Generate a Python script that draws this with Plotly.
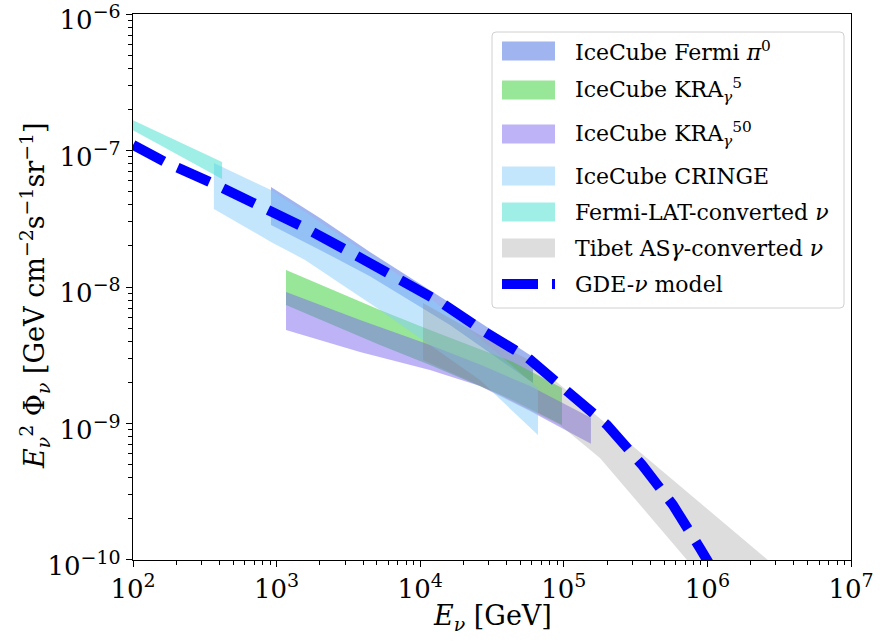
import plotly.graph_objects as go

# ---------------- data ----------------
# IceCube Fermi pi0
fermi_pi0_E = [914, 2004, 4467, 16130, 61030]
fermi_pi0_up = [5.40e-8, 3.20e-8, 1.805e-8, 7.63e-9, 3.07e-9]
fermi_pi0_lo = [2.85e-8, 1.87e-8, 1.20e-8, 5.27e-9, 1.98e-9]

# IceCube KRA_gamma^5
kra5_E = [1163, 5248, 11700, 44260, 97170]
kra5_up = [1.332e-8, 6.78e-9, 4.84e-9, 2.82e-9, 1.82e-9]
kra5_lo = [7.38e-9, 3.76e-9, 2.68e-9, 1.487e-9, 9.75e-10]

# IceCube KRA_gamma^50
kra50_E = [1163, 3811, 11700, 26060, 58160, 154500]
kra50_up = [9.19e-9, 5.73e-9, 3.76e-9, 2.70e-9, 1.88e-9, 1.10e-9]
kra50_lo = [4.84e-9, 3.34e-9, 2.47e-9, 1.88e-9, 1.235e-9, 7.1e-10]

# IceCube CRINGE
cringe_E = [366, 914, 1578, 3243, 5248, 9970, 26060, 66070]
cringe_up = [8.10e-8, 5.13e-8, 3.54e-8, 2.14e-8, 1.525e-8, 9.51e-9, 4.23e-9, 1.82e-9]
cringe_lo = [3.73e-8, 2.14e-8, 1.58e-8, 9.51e-9, 6.78e-9, 4.23e-9, 2.08e-9, 8.23e-10]

# Fermi-LAT-converted nu
fermilat_E = [100, 417]
fermilat_up = [1.67e-7, 8.24e-8]
fermilat_lo = [1.41e-7, 6.18e-8]

# Tibet ASgamma-converted nu
tibet_E_up = [10460, 26060, 61030, 110400, 210000, 2.64e6, 6.08e6]
tibet_up = [7.63e-9, 4.45e-9, 2.82e-9, 1.67e-9, 9.43e-10, 1.0e-10, 4.76e-11]
tibet_E_lo = [10460, 35950, 94080, 178600, 721000, 1.225e6]
tibet_lo = [2.92e-9, 1.62e-9, 9.75e-10, 5.59e-10, 1.0e-10, 5.27e-11]

# GDE-nu model
gde_E = [100, 167, 355, 741, 1578, 3243, 6887, 14190, 28250, 56360,
         107000, 200000, 351000, 575000, 887000, 1330000]
gde_F = [1.10e-7, 8.24e-8, 5.78e-8, 3.99e-8, 2.71e-8, 1.80e-8, 1.18e-8,
         7.63e-9, 4.68e-9, 3.02e-9, 1.70e-9, 9.75e-10, 4.96e-10, 2.53e-10,
         1.22e-10, 6.0e-11]

x_tickvals = [1e2, 1e3, 1e4, 1e5, 1e6, 1e7]
x_exponents = ["2", "3", "4", "5", "6", "7"]
y_tickvals = [1e-10, 1e-9, 1e-8, 1e-7, 1e-6]
y_exponents = ["−10", "−9", "−8", "−7", "−6"]

FONT = "DejaVu Serif"
SUP = '10<sup><span style="font-size:19px">{}</span></sup>'

bands = [
    ("IceCube Fermi <i>π</i><sup>0</sup>", fermi_pi0_E, fermi_pi0_up, fermi_pi0_E, fermi_pi0_lo, "rgba(65,105,225,0.5)"),
    ("IceCube KRA<sub><i>γ</i></sub><sup>5</sup>", kra5_E, kra5_up, kra5_E, kra5_lo, "rgba(50,205,50,0.5)"),
    ("IceCube KRA<sub><i>γ</i></sub><sup>50</sup>", kra50_E, kra50_up, kra50_E, kra50_lo, "rgba(123,104,238,0.5)"),
    ("IceCube CRINGE", cringe_E, cringe_up, cringe_E, cringe_lo, "rgba(135,206,250,0.5)"),
    ("Fermi-LAT-converted <i>ν</i>", fermilat_E, fermilat_up, fermilat_E, fermilat_lo, "rgba(64,224,208,0.5)"),
    ("Tibet AS<i>γ</i>-converted <i>ν</i>", tibet_E_up, tibet_up, tibet_E_lo, tibet_lo, "rgba(128,128,128,0.27)"),
]
gde_name = "GDE-<i>ν</i> model"

fig = go.Figure()
for name, eu, fu, el, fl, col in bands:
    fig.add_trace(go.Scatter(
        x=list(eu) + list(el)[::-1],
        y=list(fu) + list(fl)[::-1],
        mode="lines", fill="toself", fillcolor=col,
        line=dict(width=0, color=col), name=name, hoverinfo="skip",
        showlegend=False))

fig.add_trace(go.Scatter(
    x=gde_E, y=gde_F, mode="lines", name=gde_name, showlegend=False,
    line=dict(color="blue", width=10, dash="35px,15px")))

# ---- axes ----
x_minor = [k * 10 ** d for d in range(2, 7) for k in range(2, 10)]
y_minor = [k * 10.0 ** d for d in range(-10, -6) for k in range(2, 10)]

axis_common = dict(
    type="log", showline=True, linecolor="black", linewidth=1.2, mirror=True,
    ticks="outside", ticklen=6, tickwidth=1.2, tickcolor="black",
    showgrid=False, zeroline=False, ticklabeloverflow="allow", automargin=False,
    tickfont=dict(family=FONT, size=26, color="black"),
)
fig.update_xaxes(range=[2, 7], tickvals=x_tickvals,
                 ticktext=[SUP.format(e) for e in x_exponents],
                 minor=dict(tickvals=x_minor, ticks="outside", ticklen=3.5,
                            tickwidth=0.9, tickcolor="black", showgrid=False),
                 **axis_common)
fig.update_yaxes(range=[-10.0005, -5.9995], tickvals=y_tickvals,
                 ticktext=[SUP.format(e) for e in y_exponents], ticklabelshift=6,
                 minor=dict(tickvals=y_minor, ticks="outside", ticklen=3.5,
                            tickwidth=0.9, tickcolor="black", showgrid=False),
                 **axis_common)

# ---- manual legend (matplotlib style) ----
L, R, T, B = 133, 851, 14, 560
def px(xp):
    return (xp - L) / (R - L)
def py(yp):
    return 1 - (yp - T) / (B - T)

shapes = []
x0, x1, y0, y1, r = 492, 844, 32, 308, 4
path = (f"M {px(x0 + r)},{py(y0)} L {px(x1 - r)},{py(y0)} Q {px(x1)},{py(y0)} {px(x1)},{py(y0 + r)} "
        f"L {px(x1)},{py(y1 - r)} Q {px(x1)},{py(y1)} {px(x1 - r)},{py(y1)} "
        f"L {px(x0 + r)},{py(y1)} Q {px(x0)},{py(y1)} {px(x0)},{py(y1 - r)} "
        f"L {px(x0)},{py(y0 + r)} Q {px(x0)},{py(y0)} {px(x0 + r)},{py(y0)} Z")
shapes.append(dict(type="path", xref="paper", yref="paper", path=path,
                   fillcolor="rgba(255,255,255,0.8)", line=dict(color="#d0d0d0", width=1)))

row_y = [51, 90, 134, 176, 212, 248, 284]
legend_annos = []
for (name, *_rest, col), yc in zip(bands, row_y[:6]):
    shapes.append(dict(type="rect", xref="paper", yref="paper",
                       x0=px(502), x1=px(555), y0=py(yc - 9.5), y1=py(yc + 9.5),
                       fillcolor=col, line=dict(width=0)))
    legend_annos.append(dict(text=name, xref="paper", yref="paper",
                             x=px(573), y=py(yc), xanchor="left", yanchor="middle",
                             showarrow=False, font=dict(family=FONT, size=22, color="black")))
yc = row_y[6]
shapes.append(dict(type="line", xref="paper", yref="paper", x0=px(502), x1=px(538),
                   y0=py(yc), y1=py(yc), line=dict(color="blue", width=10)))
shapes.append(dict(type="line", xref="paper", yref="paper", x0=px(552), x1=px(555),
                   y0=py(yc), y1=py(yc), line=dict(color="blue", width=10)))
legend_annos.append(dict(text=gde_name, xref="paper", yref="paper",
                         x=px(573), y=py(yc), xanchor="left", yanchor="middle",
                         showarrow=False, font=dict(family=FONT, size=22, color="black")))

fig.update_layout(
    width=881, height=644,
    margin=dict(l=L, r=881 - R, t=T, b=644 - B, autoexpand=False),
    paper_bgcolor="white", plot_bgcolor="white",
    font=dict(family=FONT, size=20, color="black"),
    showlegend=False,
    shapes=shapes,
    annotations=[
        dict(text="<i>E</i><sub><i>ν</i></sub> [GeV]", xref="paper", yref="paper",
             x=0.5, y=py(598), xanchor="center", yanchor="top", showarrow=False,
             font=dict(family=FONT, size=27)),
        dict(text="<i>E</i><sub><i>ν</i></sub><sup>2</sup> Φ<sub><i>ν</i></sub> [GeV cm<sup>−2</sup>s<sup>−1</sup>sr<sup>−1</sup>]",
             xref="paper", yref="paper", x=px(34), y=py(296), xanchor="center", yanchor="middle",
             textangle=-90, showarrow=False, font=dict(family=FONT, size=27)),
    ] + legend_annos,
)

fig.write_html("out.html")
